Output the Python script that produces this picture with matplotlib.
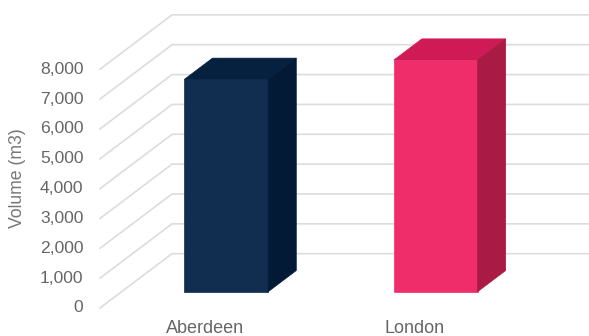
import matplotlib
matplotlib.use('Agg')
import matplotlib.pyplot as plt
from matplotlib.patches import Polygon

categories = ['Aberdeen', 'London']
volumes = [7115, 7760]
yticks = [0, 1000, 2000, 3000, 4000, 5000, 6000, 7000, 8000]
front_colors = ['#112d50', '#ef2d6b']
top_colors = ['#05213f', '#d01a56']
side_colors = ['#031a37', '#a91a44']

# oblique projection: depth 0 is the front edge, depth 1 the back wall
depth_dx = 0.344
depth_dy = 1820
bar_width = 0.40
bar_front = 0.30
bar_back = 0.69
back_right = 2.337

def project(x, value, depth):
    return x + depth * depth_dx, value + depth * depth_dy

def box(ax, center, value, front, top, side):
    left = center - bar_width / 2
    right = center + bar_width / 2
    faces = [
        ([(left, 0, bar_front), (right, 0, bar_front), (right, value, bar_front), (left, value, bar_front)], front),
        ([(left, value, bar_front), (right, value, bar_front), (right, value, bar_back), (left, value, bar_back)], top),
        ([(right, 0, bar_front), (right, 0, bar_back), (right, value, bar_back), (right, value, bar_front)], side),
    ]
    for corners, color in faces:
        pts = [project(*c) for c in corners]
        ax.add_patch(Polygon(pts, closed=True, facecolor=color, edgecolor=color, linewidth=0.5, zorder=3))

plt.rcParams['font.family'] = ['Liberation Sans', 'DejaVu Sans']

fig = plt.figure(figsize=(5.89, 3.36), dpi=100)
ax = fig.add_axes([0, 0, 1, 1])
ax.set_xlim(-100 / 209.4, 489 / 209.4)
ax.set_ylim(-938, 10318)
ax.axis('off')

grid_color = '#dcdcdc'
for tick in yticks:
    x0, y0 = project(0, tick, 0)
    x1, y1 = project(0, tick, 1)
    ax.plot([x0, x1, back_right], [y0, y1, y1], color=grid_color, lw=1.2, zorder=1,
            solid_joinstyle='miter', clip_on=False)
    ax.annotate(f'{tick:,}', (0, tick), xytext=(-12, 0), textcoords='offset points',
                ha='right', va='center', fontsize=12.6, color='#666666')

for i, name in enumerate(categories):
    box(ax, i + 0.5, volumes[i], front_colors[i], top_colors[i], side_colors[i])
    ax.text(i + 0.5, -850, name, ha='center', va='baseline', fontsize=13, color='#666666')

ax.text(18 / 589, 1 - 178 / 336, 'Volume (m3)', rotation=90, ha='center', va='center',
        fontsize=12.7, color='#777777', transform=ax.transAxes)

fig.savefig('out.png', dpi=100)
